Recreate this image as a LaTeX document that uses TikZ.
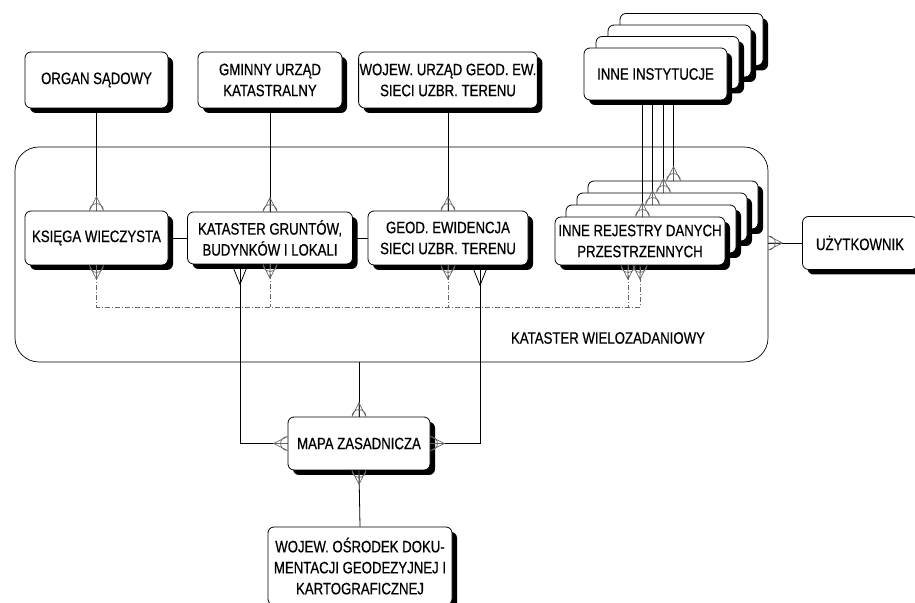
\documentclass[tikz,border=0pt]{standalone}
\usepackage{fontspec}
\setmainfont{Liberation Sans}[FakeStretch=0.8,FakeBold=0.6]
\usetikzlibrary{shadows}

\newcommand{\crow}[2]{\begin{scope}[shift={(#1)},rotate=#2]
        \draw[crow] (-7,0) -- (0,14) -- (7,0) (0,0) -- (0,14) (-7,0) arc (180:0:7);
    \end{scope}}
\newcommand{\crowN}[1]{\crow{#1}{0}}
\newcommand{\crowS}[1]{\crow{#1}{180}}
\newcommand{\crowW}[1]{\crow{#1}{90}}
\newcommand{\crowE}[1]{\crow{#1}{-90}}
\newcommand{\forkS}[1]{\draw[link, shift={(#1)}] (-8,0) -- (0,-20) -- (8,0);}

\begin{document}
\begin{tikzpicture}
                [
                x=1pt, y=1pt,
                box/.style={rectangle, rounded corners=6pt, draw=black, line width=0.8pt, fill=white,
                    inner sep=1pt, align=center, font=\fontsize{16.5}{21}\selectfont,
                    drop shadow={shadow xshift=5pt, shadow yshift=-5pt, opacity=1, fill=black}},
                frame/.style={rectangle, rounded corners=24pt, draw=black, line width=0.7pt},
                link/.style={line width=0.8pt},
                bus/.style={black!60, line width=0.7pt, dash pattern=on 5pt off 2pt on 1pt off 2pt},
                crow/.style={black!60, line width=0.7pt},
                ]
                \useasboundingbox (0,0) rectangle (915,602);
                \node[frame, minimum width=753pt, minimum height=215pt] (kw) at (391.5,347.5) {};
                \node[font=\fontsize{16.5}{21}\selectfont] (kwlabel) at (608,264) {KATASTER WIELOZADANIOWY};

                % gorny rzad
                \node[box, minimum width=143pt, minimum height=56pt] (organ) at (96.5,522) {ORGAN SĄDOWY};
                \node[box, minimum width=144pt, minimum height=56pt] (gminny) at (270,522) {GMINNY URZĄD\\KATASTRALNY};
                \node[box, minimum width=178pt, minimum height=56pt] (wojew) at (448,522) {WOJEW. URZĄD GEOD. EW.\\SIECI UZBR. TERENU};
                \foreach \i in {3,2,1}
                    \node[box, minimum width=143pt, minimum height=52pt] (inst\i) at (655.5+12*\i,528+11.5*\i) {};
                \node[box, minimum width=143pt, minimum height=52pt] (inst0) at (655.5,528) {INNE INSTYTUCJE};

                % srodkowy rzad
                \node[box, minimum width=143pt, minimum height=54pt] (ksiega) at (96.5,364) {KSIĘGA WIECZYSTA};
                \node[box, minimum width=165pt, minimum height=52pt] (kataster) at (270,364) {KATASTER GRUNTÓW,\\BUDYNKÓW I LOKALI};
                \node[box, minimum width=160pt, minimum height=54pt] (geod) at (448,364) {GEOD. EWIDENCJA\\SIECI UZBR. TERENU};
                \foreach \i in {3,2,1}
                    \node[box, minimum width=170pt, minimum height=48pt] (rej\i) at (640+11*\i,361+12*\i) {};
                \node[box, minimum width=170pt, minimum height=48pt] (rej0) at (640,361) {INNE REJESTRY DANYCH\\PRZESTRZENNYCH};
                \node[box, minimum width=115pt, minimum height=53pt] (uzyt) at (860,359) {UŻYTKOWNIK};

                % dolny rzad
                \node[box, minimum width=142pt, minimum height=53pt] (mapa) at (359,158.5) {MAPA ZASADNICZA};
                \node[box, minimum width=184pt, minimum height=78pt] (osrodek) at (360,36) {WOJEW. OŚRODEK DOKU-\\MENTACJI GEODEZYJNEJ I\\KARTOGRAFICZNEJ};

                % polaczenia
                \draw[link] (organ.south) -- (ksiega.north);   \crowN{ksiega.north}
                \draw[link] (gminny.south) -- (kataster.north); \crowN{kataster.north}
                \draw[link] (wojew.south) -- (geod.north);     \crowN{geod.north}
                \foreach \i/\dx in {0/-13,1/-3,2/8,3/18}{
                    \path ([xshift=\dx pt]inst0.south) coordinate (top\i);
                    \draw[link] (top\i) -- (top\i |- rej\i.north) coordinate (end\i);
                    \crowN{end\i}
                }
                \draw[link] (ksiega.east) -- (ksiega.east -| kataster.west);
                \draw[link] (kataster.east) -- (kataster.east -| geod.west);

                % linia przerywana
                \path ([xshift=-12pt]rej0.south) coordinate (rl) (rej0.south) coordinate (rr);
                \draw[bus] (ksiega.south) -- (ksiega.south |- 0,295) -- (rr |- 0,295) -- (rr);
                \draw[bus] (kataster.south) -- (kataster.south |- 0,295);
                \draw[bus] (geod.south) -- (geod.south |- 0,295);
                \draw[bus] (rl) -- (rl |- 0,295);
                \crowS{ksiega.south} \crowS{kataster.south} \crowS{geod.south} \crowS{rl} \crowS{rr}

                \path ([xshift=-30pt]kataster.south) coordinate (ks) ([xshift=32pt]geod.south) coordinate (gs);
                \draw[link] (ks) |- (mapa.west); \forkS{ks} \crowW{mapa.west}
                \draw[link] (gs) |- (mapa.east); \forkS{gs} \crowE{mapa.east}
                \draw[link] (mapa.north |- kw.south) -- (mapa.north); \crowN{mapa.north}
                \draw[link] (mapa.south) -- (osrodek.north); \crowS{mapa.south}
                \coordinate (ue) at (uzyt.west -| kw.east);
                \draw[link] (uzyt.west) -- (ue); \crowE{ue}
            \end{tikzpicture}
\end{document}
